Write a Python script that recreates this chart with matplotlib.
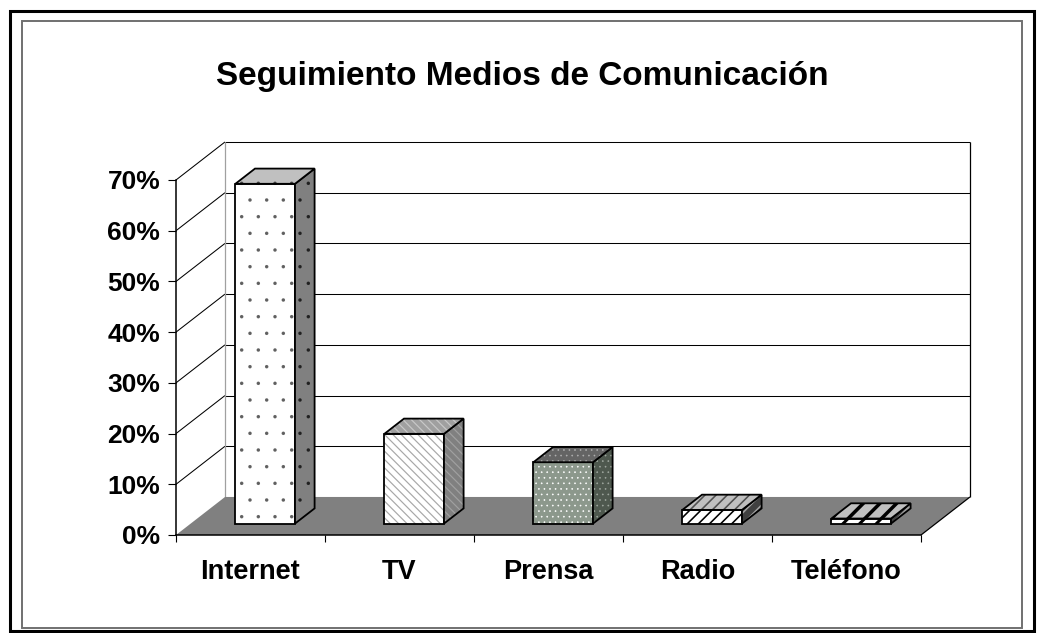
import matplotlib
matplotlib.use("Agg")
import matplotlib.pyplot as plt
from matplotlib.patches import Polygon, Rectangle
from matplotlib.transforms import IdentityTransform

plt.rcParams['font.family'] = ['Liberation Sans', 'DejaVu Sans']
plt.rcParams['font.weight'] = 'bold'

title = "Seguimiento Medios de Comunicación"
categories = ["Internet", "TV", "Prensa", "Radio", "Teléfono"]
shares = [67, 17.7, 12.1, 2.7, 1.0]
yticks = [0, 10, 20, 30, 40, 50, 60, 70]
ytick_labels = [f"{t}%" for t in yticks]

# (facecolor, hatch, hatch colour, hatch width px) for front / side / top faces
styles = [
    [("white", ".", "#606060", 0.1), ("#808080", ".", "#202020", 0.1), ("#c0c0c0", ".", "#404040", 0.1)],
    [("white", "\\\\\\\\", "#a8a8a8", 1.2), ("#808080", "\\\\\\\\", "#a0a0a0", 1.2), ("#a0a0a0", "\\\\\\\\", "#c8c8c8", 1.2)],
    [("#8c988c", "...", "white", 0.6), ("#4e584e", "...", "#a0a8a0", 0.6), ("#646464", "...", "#b0b0b0", 0.6)],
    [("white", "///", "black", 1.6), ("#404040", "///", "#a0a0a0", 1.6), ("#c0c0c0", "///", "#505050", 1.6)],
    [("white", "//", "black", 3.0), ("#404040", "//", "#a0a0a0", 3.0), ("#c0c0c0", "//", "black", 3.5)],
]

W, H = 1044, 633
fig = plt.figure(figsize=(W / 100, H / 100), dpi=100)
ax = fig.add_axes([176 / W, 98 / H, 745 / W, 355 / H])
ax.set_xlim(-0.5, 4.5)
ax.set_ylim(0, 70)

# oblique depth offset, in data units (category, percent)
DX, DY = 49 / 149, 7.5
ymax = yticks[-1]
xl, xr = -0.5, len(categories) - 0.5


def proj(x, y, d):
    return (x + d * DX, y + d * DY)


def line(p, q, **kw):
    ax.plot([p[0], q[0]], [p[1], q[1]], clip_on=False, solid_capstyle='butt', **kw)


# back wall gridlines and edges
for v in yticks[1:]:
    line(proj(xl, v, 1), proj(xr, v, 1), color="black", lw=0.75, zorder=1)
    line(proj(xl, v, 0), proj(xl, v, 1), color="black", lw=0.75, zorder=1)
line(proj(xr, 0, 1), proj(xr, ymax, 1), color="black", lw=0.9, zorder=1)
line(proj(xl, 0, 1), proj(xl, ymax, 1), color="#a0a0a0", lw=0.9, zorder=1)

# floor
floor = [proj(xl, 0, 0), proj(xr, 0, 0), proj(xr, 0, 1), proj(xl, 0, 1)]
ax.add_patch(Polygon(floor, closed=True, fc="#808080", ec="none", zorder=2, clip_on=False))
line(proj(xr, 0, 0), proj(xr, 0, 1), color="black", lw=0.9, zorder=2)

# bars
hw = 0.2
for i, v in enumerate(shares):
    x0, x1 = i - hw, i + hw
    front = [proj(x0, 0, .3), proj(x1, 0, .3), proj(x1, v, .3), proj(x0, v, .3)]
    side = [proj(x1, 0, .3), proj(x1, 0, .7), proj(x1, v, .7), proj(x1, v, .3)]
    top = [proj(x0, v, .3), proj(x1, v, .3), proj(x1, v, .7), proj(x0, v, .7)]
    for face, (fc, hatch, hc, hlw) in zip([front, side, top], styles[i]):
        with plt.rc_context({'hatch.linewidth': hlw * 0.72}):
            p = Polygon(face, closed=True, fc=fc, ec=hc, lw=0, hatch=hatch,
                        zorder=3 + i, clip_on=False)
        if hasattr(p, "set_hatch_linewidth"):
            p.set_hatch_linewidth(hlw * 0.72)
        ax.add_patch(p)
        ax.add_patch(Polygon(face, closed=True, fill=False, ec="black", lw=1.3,
                             zorder=3 + i, clip_on=False, joinstyle='miter'))

# axes
for s in ["top", "right"]:
    ax.spines[s].set_visible(False)
for s in ["left", "bottom"]:
    ax.spines[s].set_linewidth(1.1)
    ax.spines[s].set_zorder(10)
ax.set_facecolor("none")
ax.set_yticks(yticks)
ax.set_yticklabels(ytick_labels)
ax.tick_params(axis="y", length=5.8, width=0.8, pad=5.5, labelsize=19)
ax.set_xticks([k - 0.5 for k in range(len(categories) + 1)])
ax.set_xticklabels([])
ax.tick_params(axis="x", which="major", length=5, width=0.8)
ax.set_xticks(range(len(categories)), minor=True)
ax.set_xticklabels(categories, minor=True)
ax.tick_params(axis="x", which="minor", length=0, pad=17, labelsize=19.5)

fig.text(522 / W, 1 - 77 / H, title, ha="center", va="center", fontsize=24, fontweight="bold")

# chart frames (pixel coords)
fig.add_artist(Rectangle((10, 2), 1024, 620, fill=False, ec="black", lw=2.2,
                         transform=IdentityTransform()))
fig.add_artist(Rectangle((22, 5), 1000, 607, fill=False, ec="#707070", lw=1.4,
                         transform=IdentityTransform()))

fig.savefig("out.png", dpi=100)
